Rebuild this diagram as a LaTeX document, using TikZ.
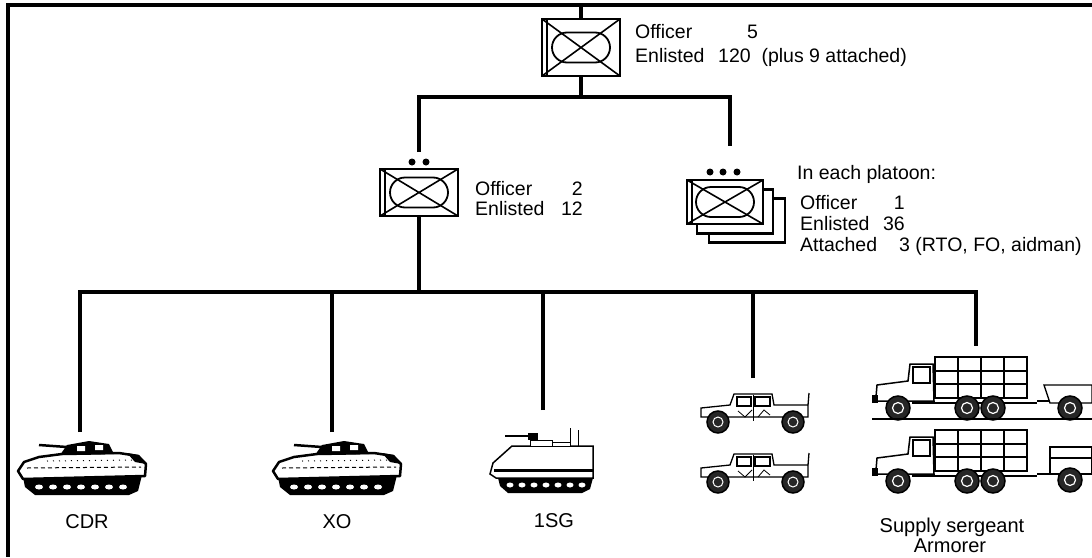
\documentclass[tikz,border=0pt]{standalone}
\usepackage{fontspec}
\setmainfont{Liberation Sans}
\usetikzlibrary{calc}

\tikzset{
  link/.style={line width=4pt},
  unit/.style={draw, fill=white, line width=2.4pt, minimum width=78pt, minimum height=47pt, inner sep=0pt,
    path picture={
      \draw[line width=1.6pt] (path picture bounding box.north west) -- (path picture bounding box.south east)
        (path picture bounding box.south west) -- (path picture bounding box.north east);
      \draw[line width=1.4pt] ([xshift=5pt]path picture bounding box.north west) -- ([xshift=5pt]path picture bounding box.south west);
      \draw[line width=1.8pt, rounded corners=15pt] ($(path picture bounding box.center)+(-29,-15)$) rectangle ($(path picture bounding box.center)+(29,15)$);
    }},
  backunit/.style={draw, fill=white, line width=2.4pt, minimum width=76pt, minimum height=44pt, inner sep=0pt},
  txt/.style={font=\fontsize{19.5}{22}\selectfont, inner sep=0pt},
  vlabel/.style={font=\fontsize{20}{23}\selectfont, inner sep=0pt},
  pip/.style={circle, fill, inner sep=0pt, minimum size=7pt},
  wheel/.style={fill=black!85, line width=1.5pt},
  bradley/.pic={
    \fill (6,37) -- (125,35) -- (121,51) -- (112,55) -- (18,55) -- (8,47) -- cycle;
    \foreach \i in {0,...,6} \fill[white] (22+14*\i,47) ellipse (4 and 2.5);
    \draw[fill=white, line width=2.5pt, line join=round] (1,31) -- (7,22) -- (22,17) -- (45,14) -- (102,13) -- (121,16) -- (129,24) -- (128,36) -- (6,39) -- cycle;
    \draw[line width=1pt, dash pattern=on 4pt off 3pt] (10,28) -- (124,27);
    \draw[line width=1pt, dash pattern=on 1pt off 5pt] (30,21) -- (118,20);
    \fill (110,13) -- (122,15) -- (129,24) -- (118,22) -- cycle;
    \fill (43,15) -- (50,5) -- (72,1) -- (92,4) -- (97,14) -- cycle;
    \fill[white] (60,6) rectangle (68,11) (78,5) rectangle (86,10);
    \draw[line width=2.5pt] (50,7) -- (22,5);
  },
  carrier/.pic={
    \fill (8,50) -- (103,50) -- (100,61) -- (92,65) -- (18,65) -- (10,58) -- cycle;
    \foreach \i in {0,...,6} \fill[white] (20+12*\i,57) ellipse (3.5 and 2.5);
    \draw[fill=white, line width=1.5pt] (0,46) -- (3,35) -- (22,18) -- (103,18) -- (103,50) -- (6,50) -- cycle;
    \draw[line width=3pt] (4,42) -- (103,42);
    \draw[line width=1.5pt] (15,8) -- (40,8);
    \fill (38,5) rectangle (48,12);
    \draw[fill=white, line width=1pt] (40,12) rectangle (62,18) (62,14) rectangle (80,18);
    \draw[line width=1pt] (80,18) -- (80,0) (88,18) -- (88,2);
  },
  humvee/.pic={
    \draw[fill=white, line width=1.3pt] (1,24) -- (1,15) -- (30,12) -- (34,1) -- (72,1) -- (74,12) -- (108,12) -- (108,24) -- cycle;
    \draw[line width=1.3pt] (108,12) -- (109,0);
    \draw[line width=1.2pt] (37,4) rectangle (51,13) (55,4) rectangle (70,13);
    \draw (53,2) -- (53,28);
    \draw[line width=0.8pt] (38,18) -- (45,24) -- (52,17) (58,24) -- (64,17) -- (70,22);
    \foreach \x in {18,93} {
      \draw[wheel] (\x,29) circle (11);
      \draw[white, line width=1pt] (\x,29) circle (5);
    }
  },
  truck/.pic={
    \draw[fill=white, line width=1.5pt] (63,0) rectangle (155,41);
    \foreach \x in {86,109,132} \draw[line width=1.5pt] (\x,0) -- (\x,41);
    \draw[line width=1.5pt] (63,14) -- (155,14) (63,27) -- (155,27);
    \draw[fill=white, line width=1.5pt] (4,40) -- (5,28) -- (36,24) -- (38,7) -- (61,7) -- (62,44) -- (4,44) -- cycle;
    \draw[line width=1.2pt] (41,10) rectangle (58,26);
    \draw[line width=2pt] (40,46) -- (165,46) (165,44) -- (185,44);
    \fill (0,38) rectangle (6,46);
    \foreach \x in {26,95,121} {
      \draw[wheel] (\x,51) circle (12);
      \draw[white, line width=1.2pt] (\x,51) circle (5.5);
    }
  },
  flattrailer/.pic={
    \draw[fill=white, line width=1.3pt] (172,28) -- (220,28) -- (220,46) -- (178,46) -- cycle;
    \draw[wheel] (198,51) circle (12);
    \draw[white, line width=1.2pt] (198,51) circle (5.5);
    \draw[line width=1.5pt] (0,62) -- (220,62);
  },
  boxtrailer/.pic={
    \draw[fill=white, line width=1.3pt] (178,17) rectangle (220,44);
    \draw[line width=1.3pt] (178,28) -- (220,28);
    \draw[wheel] (198,50) circle (12);
    \draw[white, line width=1.2pt] (198,50) circle (5.5);
  }
}

\begin{document}
\begin{tikzpicture}[x=1pt, y=-1pt]
  \useasboundingbox (0,0) rectangle (1092,557);
  \draw[line width=3.5pt] (1092,5) -- (8,5) -- (8,557);

  % unit boxes
  \node[unit, minimum height=57pt] (co) at (581,47.5) {};
  \node[unit] (hq) at (419,192.5) {};
  \node[backunit] (plc) at (747,220.5) {};
  \node[backunit] (plb) at (735,211.5) {};
  \node[unit, minimum width=76pt, minimum height=44pt] (pla) at (725,202) {};
  \node[pip] (hqd1) at (412,162) {};
  \node[pip] (hqd2) at (426,162) {};
  \foreach \x/\n in {710/1,723/2,737/3} \node[pip] (pld\n) at (\x,172) {};

  % texts
  \node[txt, anchor=base west] (cooff) at (635,38) {Officer};
  \node[txt, anchor=base west] (coofn) at (747,38) {5};
  \node[txt, anchor=base west] (coenl) at (635,62) {Enlisted};
  \node[txt, anchor=base west] (coenn) at (718,62) {120\ \ (plus 9 attached)};
  \node[txt, anchor=base west] (hqoff) at (475,195) {Officer};
  \node[txt, anchor=base east] (hqofn) at (583,195) {2};
  \node[txt, anchor=base west] (hqenl) at (475,215) {Enlisted};
  \node[txt, anchor=base east] (hqenn) at (583,215) {12};
  \node[txt, anchor=base west] (plhead) at (797,179) {In each platoon:};
  \node[txt, anchor=base west] (ploff) at (800,209) {Officer};
  \node[txt, anchor=base east] (plofn) at (905,209) {1};
  \node[txt, anchor=base west] (plenl) at (800,230) {Enlisted};
  \node[txt, anchor=base east] (plenn) at (905,230) {36};
  \node[txt, anchor=base west] (platt) at (800,251) {Attached};
  \node[txt, anchor=base west] (platn) at (899,251) {3 (RTO, FO, aidman)};

  % vehicles
  \pic at (17,440) {bradley};
  \pic at (272,440) {bradley};
  \pic at (490,428) {carrier};
  \pic at (700,393) {humvee};
  \pic at (700,453) {humvee};
  \pic at (872,357) {truck};
  \pic at (872,357) {flattrailer};
  \pic at (872,430) {truck};
  \pic at (872,430) {boxtrailer};
  \node[vlabel, anchor=base] (cdr) at (87,528) {CDR};
  \node[vlabel, anchor=base] (xo) at (337,528) {XO};
  \node[vlabel, anchor=base] (fsg) at (554,527) {1SG};
  \node[vlabel, anchor=base] (sup) at (952,532) {Supply sergeant};
  \node[vlabel, anchor=base] (arm) at (950,552) {Armorer};

  % connectors
  \coordinate (bn) at (581,5);
  \coordinate (fork1) at (581,97);
  \coordinate (hqin) at (419,152);
  \coordinate (plin) at (730,146);
  \coordinate (fork2) at (419,292);
  \coordinate (cdrin) at (80,432);
  \coordinate (xoin) at (332,432);
  \coordinate (fsgin) at (543,410);
  \coordinate (hmvin) at (753,378);
  \coordinate (supin) at (976,346);
  \draw[link] (bn) -- (co.north);
  \draw[link] (co.south) -- (fork1);
  \draw[link] (hqin) |- (fork1) -| (plin);
  \draw[link] (hq.south) -- (fork2);
  \draw[link] (cdrin) |- (fork2) -| (supin);
  \draw[link] (xoin) -- (xoin |- fork2);
  \draw[link] (fsgin) -- (fsgin |- fork2);
  \draw[link] (hmvin) -- (hmvin |- fork2);
\end{tikzpicture}
\end{document}
